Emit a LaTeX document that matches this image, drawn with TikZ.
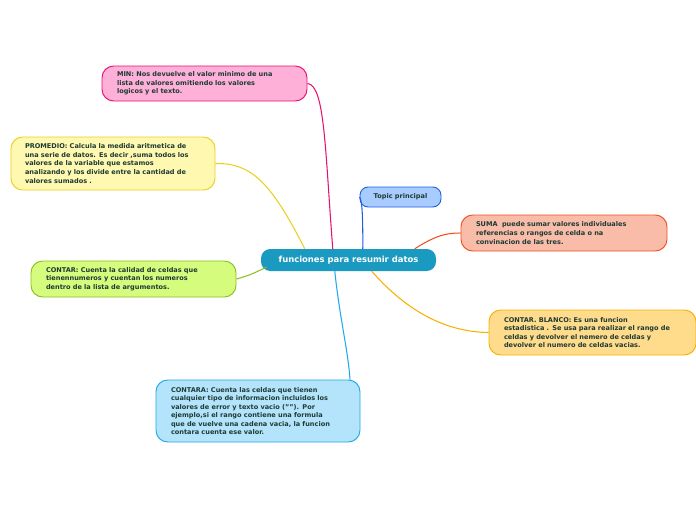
\documentclass[tikz,border=0pt]{standalone}
\usepackage{fontspec}
\setmainfont{DejaVu Sans}
\usetikzlibrary{calc}
\definecolor{txt}{HTML}{1E3A34}
\begin{document}
\begin{tikzpicture}[x=0.03cm, y=-0.03cm]
    % Styles
    \tikzset{
      topic/.style={rounded corners=10pt, draw=#1!80!black, fill=#1, line width=0.8pt,
        align=left, inner xsep=0pt, font=\fontsize{5.6}{7.3}\selectfont\bfseries, text=txt},
      link/.style={line width=0.9pt}
    }
    \definecolor{cpink}{HTML}{FFB0D8}
    \definecolor{cyel}{HTML}{FFF8B0}
    \definecolor{cgreen}{HTML}{D6FC7E}
    \definecolor{cblue}{HTML}{A8CCFF}
    \definecolor{csalm}{HTML}{F8BCA8}
    \definecolor{corange}{HTML}{FFDC8C}
    \definecolor{clight}{HTML}{B4E4FC}
    \useasboundingbox (0,0) rectangle (696,520);

    % Nodes
    \node[rounded corners=8pt, fill={rgb,255:red,26;green,154;blue,192}, text=white,
      minimum width=175*0.03cm, minimum height=22*0.03cm, font=\fontsize{7.2}{9}\selectfont\bfseries]
      (cen) at (348.5,260) {funciones para resumir datos};
    \node[topic=cpink, draw={rgb,255:red,232;green,16;blue,110}, minimum width=205*0.03cm, minimum height=35*0.03cm, text width=175*0.03cm]
      (min) at (204.5,83.5) {MIN: Nos devuelve el valor minimo de una\\lista de valores omitiendo los valores\\logicos y el texto.};
    \node[topic=cyel, draw={rgb,255:red,232;green,208;blue,32}, minimum width=204*0.03cm, minimum height=53*0.03cm, text width=176*0.03cm]
      (prom) at (113,163.5) {PROMEDIO: Calcula la medida aritmetica de\\una serie de datos. Es decir ,suma todos los\\valores de la variable que estamos\\analizando y los divide entre la cantidad de\\valores sumados .};
    \node[topic=cgreen, draw={rgb,255:red,140;green,192;blue,32}, minimum width=205*0.03cm, minimum height=36*0.03cm, text width=175*0.03cm]
      (contar) at (133.5,279) {CONTAR: Cuenta la calidad de celdas que\\tienennumeros y cuentan los numeros\\dentro de la lista de argumentos.};
    \node[topic=cblue, draw={rgb,255:red,32;green,96;blue,224}, rounded corners=7pt, minimum width=81*0.03cm, minimum height=20*0.03cm, align=center]
      (tp) at (400.5,197) {Topic principal};
    \node[topic=csalm, draw={rgb,255:red,240;green,80;blue,32}, minimum width=206*0.03cm, minimum height=36*0.03cm, text width=176*0.03cm]
      (suma) at (564,233) {SUMA\ \ puede sumar valores individuales\\referencias o rangos de celda o na\\convinacion de las tres.};
    \node[topic=corange, draw={rgb,255:red,248;green,176;blue,0}, minimum width=207*0.03cm, minimum height=45*0.03cm, text width=177*0.03cm]
      (blanco) at (592.5,332.5) {CONTAR. BLANCO: Es una funcion\\estadistica . Se usa para realizar el rango de\\celdas y devolver el nemero de celdas y\\devolver el numero de celdas vacias.};
    \node[topic=clight, draw={rgb,255:red,32;green,168;blue,232}, minimum width=204*0.03cm, minimum height=62*0.03cm, text width=174*0.03cm]
      (contara) at (258,411) {CONTARA: Cuenta las celdas que tienen\\cualquier tipo de informacion incluidos los\\valores de error y texto vacio (""). Por\\ejemplo,si el rango contiene una formula\\que de vuelve una cadena vacia, la funcion\\contara cuenta ese valor.};

    % Connectors
    \draw[link, draw={rgb,255:red,232;green,16;blue,110}] ($(cen.north west)+(72,0)$) .. controls (325,150) and (325,85) .. (min.east);
    \draw[link, draw={rgb,255:red,232;green,208;blue,32}] ($(cen.north west)+(44,0)$) .. controls (270,180) and (250,163) .. (prom.east);
    \draw[link, draw={rgb,255:red,140;green,192;blue,32}] ($(cen.west)+(6,7)$) .. controls (250,275) .. (contar.east);
    \draw[link, draw={rgb,255:red,32;green,96;blue,224}] ($(cen.north west)+(102,0)$) .. controls (363,215) and (362,200) .. (tp.west);
    \draw[link, draw={rgb,255:red,240;green,80;blue,32}] ($(cen.north west)+(154,0)$) .. controls (435,236) and (445,233) .. (suma.west);
    \draw[link, draw={rgb,255:red,248;green,176;blue,0}] ($(cen.south west)+(111,0)$) .. controls (410,315) and (450,332) .. (blanco.west);
    \draw[link, draw={rgb,255:red,32;green,168;blue,232}] ($(cen.south west)+(74,0)$) .. controls (340,320) and (348,350) .. (contara.north east-|350,380);
\end{tikzpicture}
\end{document}
